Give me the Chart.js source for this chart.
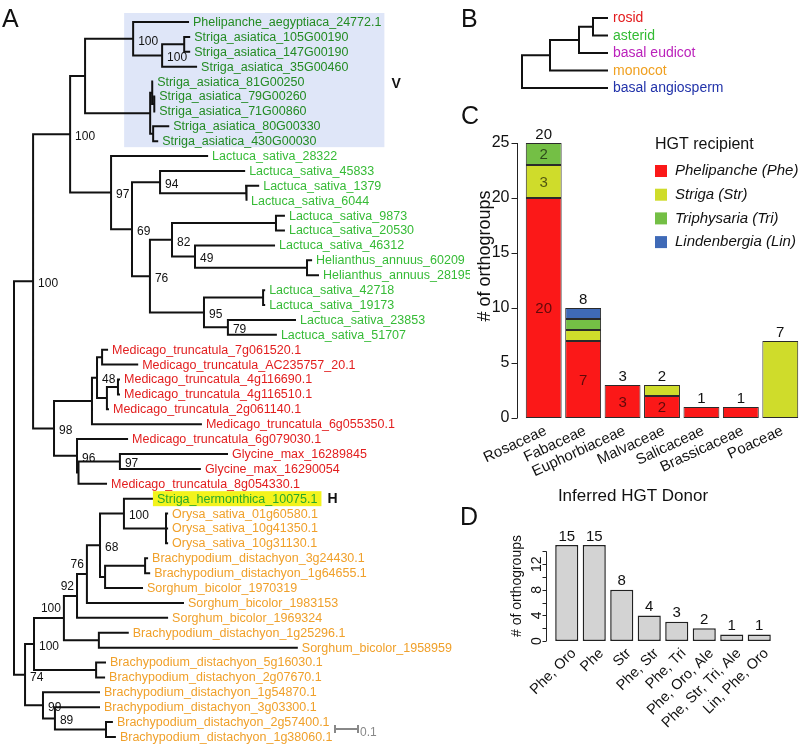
<!DOCTYPE html>
<html>
<head>
<meta charset="utf-8">
<title>HGT phylogeny figure</title>
<script src="https://cdn.jsdelivr.net/npm/chart.js@4.4.1/dist/chart.umd.min.js"></script>
<style>
  html, body { margin:0; padding:0; background:#ffffff; }
  body { width:800px; height:745px; position:relative; overflow:hidden; font-family:"Liberation Sans", Arial, Helvetica, sans-serif; }
  canvas { position:absolute; }
  .panel { position:absolute; font-size:25px; line-height:25px; color:#111; z-index:5; }
</style>
</head>
<body>
<div class="panel" style="left:2px;top:6px">A</div>
<div class="panel" style="left:461px;top:6px">B</div>
<div class="panel" style="left:461px;top:103px">C</div>
<div class="panel" style="left:460px;top:504px">D</div>
<canvas id="treeA" width="470" height="745" style="left:0;top:0"></canvas>
<canvas id="treeB" width="330" height="100" style="left:470px;top:0"></canvas>
<canvas id="chartC" width="330" height="420" style="left:470px;top:100px"></canvas>
<canvas id="chartD" width="330" height="225" style="left:470px;top:520px"></canvas>
<script>
// ===================== DATA =====================
// Panel A: gene tree, Newick pieces (branch lengths in substitutions/site, internal labels = bootstrap)
const cladeV = "((Phelipanche_aegyptiaca_24772.1:0.243,((Striga_asiatica_105G00190:0.026,Striga_asiatica_147G00190:0.026):0.096,Striga_asiatica_35G00460:0.152)100:0.126)100:0.209,((Striga_asiatica_81G00250:0.004,(Striga_asiatica_79G00260:0.004,Striga_asiatica_71G00860:0.004):0.009):0.009,(Striga_asiatica_80G00330:0.070,Striga_asiatica_430G00030:0.022):0.013):0.283)";
const cladeAsterid = "(Lactuca_sativa_28322:0.422,((Lactuca_sativa_45833:0.370,(Lactuca_sativa_1379:0.057,Lactuca_sativa_6044:0.004):0.374)94:0.122,(((Lactuca_sativa_9873:0.039,Lactuca_sativa_20530:0.039):0.452,(Lactuca_sativa_46312:0.348,(Helianthus_annuus_60209:0.022,Helianthus_annuus_28195:0.052):0.487)49:0.100)82:0.096,((Lactuca_sativa_42718:0.009,Lactuca_sativa_19173:0.009):0.257,(Lactuca_sativa_23853:0.296,Lactuca_sativa_51707:0.213)79:0.104)95:0.235)76:0.078)69:0.091)97";
const cladeRosid = "((((Medicago_truncatula_7g061520.1:0.026,Medicago_truncatula_AC235757_20.1:0.157):0.022,((Medicago_truncatula_4g116690.1:0.009,Medicago_truncatula_4g116510.1:0.009):0.048,Medicago_truncatula_2g061140.1:0.009):0.043)48:0.022,Medicago_truncatula_6g055350.1:0.478):0.165,(Medicago_truncatula_6g079030.1:0.222,((Glycine_max_16289845:0.470,Glycine_max_16290054:0.352)97:0.180,Medicago_truncatula_8g054330.1:0.124):0.0065)96:0.100)98";
const cladeMonocot = "(((((((Striga_hermonthica_10075.1:0.126,(Orysa_sativa_01g60580.1:0.009,Orysa_sativa_10g41350.1:0.009,Orysa_sativa_10g31130.1:0.009):0.183)100:0.104,((Brachypodium_distachyon_3g24430.1:0.013,Brachypodium_distachyon_1g64655.1:0.022):0.174,Sorghum_bicolor_1970319:0.165):0.022)68:0.057,Sorghum_bicolor_1983153:0.422)76:0.043,Sorghum_bicolor_1969324:0.396)92:0.057,(Brachypodium_distachyon_1g25296.1:0.130,Sorghum_bicolor_1958959:0.865):0.152)100:0.130,(Brachypodium_distachyon_5g16030.1:0.043,Brachypodium_distachyon_2g07670.1:0.039):0.270)100:0.039,(Brachypodium_distachyon_1g54870.1:0.248,(Brachypodium_distachyon_3g03300.1:0.196,(Brachypodium_distachyon_2g57400.1:0.030,Brachypodium_distachyon_1g38060.1:0.043):0.222)89:0.052)99:0.078)74";
const newickA = "(((" + cladeV + ":0.065," + cladeAsterid + ":0.178)100:0.161," + cladeRosid + ":0.091)100:0.083," + cladeMonocot + ":0.048);";
const scaleBarLength = 0.1;
const highlightedLeaf = "Striga_hermonthica_10075.1";

// Panel B: species cladogram
const newickB = "((((rosid:0.15,asterid:0.15):0.14,basal eudicot:0.29):0.29,monocot:0.58):0.28,basal angiosperm:0.86);";

// Panel C: stacked bars
const donorFamilies = ['Rosaceae','Fabaceae','Euphorbiaceae','Malvaceae','Salicaceae','Brassicaceae','Poaceae'];
const recipientNames = ['Phelipanche (Phe)','Striga (Str)','Triphysaria (Tri)','Lindenbergia (Lin)'];
const pheCounts = [20, 7, 3, 2, 1, 1, 0];
const strCounts = [3, 1, 0, 1, 0, 0, 7];
const triCounts = [2, 1, 0, 0, 0, 0, 0];
const linCounts = [0, 1, 0, 0, 0, 0, 0];
const donorTopLabels = ['20','8','3','2','1','1','7'];
const pheInnerLabels = ['20','7','3','2','','',''];
const strInnerLabels = ['3','','','','','',''];
const triInnerLabels = ['2','','','','','',''];
const linInnerLabels = ['','','','','','',''];
const cTicks = [0, 5, 10, 15, 20, 25];

// Panel D: bars
const comboLabels = ['Phe, Oro','Phe','Str','Phe, Str','Phe, Tri','Phe, Oro, Ale','Phe, Str, Tri, Ale','Lin, Phe, Oro'];
const comboCounts = [15, 15, 8, 4, 3, 2, 1, 1];
const dTicks = [0, 2, 4, 6, 8, 10, 12, 14];
const dTickLabels = ['0','','4','','8','','12',''];

// ===================== STYLE =====================
const FONT = '"Liberation Sans", Arial, Helvetica, sans-serif';
Chart.defaults.font.family = FONT;
Chart.defaults.color = '#111';
Chart.defaults.animation = false;
const genusColors = [
  ['Striga_hermonthica', '#2aa82a'],
  ['Phelipanche', '#238b23'], ['Striga_asiatica', '#238b23'],
  ['Lactuca', '#36bb36'], ['Helianthus', '#36bb36'],
  ['Medicago', '#e21e1e'], ['Glycine', '#e21e1e'],
  ['Orysa', '#f0a02a'], ['Brachypodium', '#f0a02a'], ['Sorghum', '#f0a02a']
];
const cladeBColors = { 'rosid':'#e31a1c', 'asterid':'#33bb33', 'basal eudicot':'#bb22bb', 'monocot':'#f0a020', 'basal angiosperm':'#2233aa' };
const bootstrapLeftAbove = [18, 19, 20];   // preorder indices of labels drawn left-above their node
const recipientColors = ['#fb1818', '#cfdc2b', '#74bf45', '#3f6ab7'];

// ===================== HELPERS =====================
function parseNewick(s) {
  let i = 0;
  function node() {
    const n = { children: [], name: '', len: 0 };
    if (s[i] === '(') {
      i++;
      n.children.push(node());
      while (s[i] === ',') { i++; n.children.push(node()); }
      i++;
    }
    let name = '';
    while (i < s.length && !',():;'.includes(s[i])) name += s[i++];
    n.name = name.trim();
    if (s[i] === ':') {
      i++; let num = '';
      while (i < s.length && !',();'.includes(s[i])) num += s[i++];
      n.len = parseFloat(num);
    }
    return n;
  }
  return node();
}
function layoutTree(root) {
  const leaves = [], internals = [];
  let leafIdx = 0;
  (function walk(n, px, parent) {
    n.parent = parent;
    n.x = px + (parent ? n.len : 0);
    if (!n.children.length) { n.y = leafIdx++; leaves.push(n); }
    else {
      internals.push(n);
      n.children.forEach(c => walk(c, n.x, n));
      n.y = (n.children[0].y + n.children[n.children.length - 1].y) / 2;
    }
  })(root, 0, null);
  return { leaves, internals };
}
function treeSegments(internals) {
  const pts = [];
  internals.forEach(n => {
    const f = n.children[0], l = n.children[n.children.length - 1];
    pts.push({x: f.x, y: f.y}, {x: n.x, y: f.y}, {x: n.x, y: l.y}, {x: l.x, y: l.y}, {x: n.x, y: null});
    n.children.slice(1, -1).forEach(c => pts.push({x: n.x, y: c.y}, {x: c.x, y: c.y}, {x: n.x, y: null}));
  });
  return pts;
}
function colorFor(name) {
  for (const [k, c] of genusColors) if (name.startsWith(k)) return c;
  return '#111';
}
const baseOpts = (xmin, xmax, ymin, ymax) => ({
  responsive: false, animation: false, events: [],
  layout: { padding: 0 },
  plugins: { legend: { display: false }, tooltip: { enabled: false } },
  scales: {
    x: { type: 'linear', display: false, min: xmin, max: xmax },
    y: { type: 'linear', display: false, reverse: true, min: ymin, max: ymax }
  }
});

// ===================== PANEL A =====================
const treeA = parseNewick(newickA.replace(/\s+/g, ''));
const A = layoutTree(treeA);
const PX_PER_UNIT_A = 230, ROOT_PX_A = 14, LEAF0_PX = 22, LEAF_STEP = 14.896;
const axMinA = -ROOT_PX_A / PX_PER_UNIT_A, axMaxA = axMinA + 470 / PX_PER_UNIT_A;
const ayMinA = -LEAF0_PX / LEAF_STEP, ayMaxA = ayMinA + 745 / LEAF_STEP;

const treeAPlugin = {
  id: 'treeAdeco',
  beforeDatasetsDraw(chart) {
    const { ctx, scales: { x, y } } = chart;
    ctx.save();
    ctx.font = '12.5px ' + FONT;
    const vLeaves = A.leaves.filter(l => l.name.startsWith('Phelipanche') || l.name.startsWith('Striga_asiatica'));
    let anc = vLeaves[0];
    while (anc.parent && !vLeaves.every(l => { let p = l; while (p && p !== anc) p = p.parent; return p === anc; })) anc = anc.parent;
    const left = Math.min(...anc.children.map(c => x.getPixelForValue(c.x))) - 9;
    const right = Math.max(...vLeaves.map(l => x.getPixelForValue(l.x) + 4 + ctx.measureText(l.name).width)) + 3;
    const top = y.getPixelForValue(vLeaves[0].y) - 9;
    const bottom = y.getPixelForValue(vLeaves[vLeaves.length - 1].y) + 6;
    ctx.fillStyle = '#dfe6f8';
    ctx.fillRect(left, top, right - left, bottom - top);
    chart.$vbox = { right, top, bottom };
    const h = A.leaves.find(l => l.name === highlightedLeaf);
    const hx = x.getPixelForValue(h.x), hy = y.getPixelForValue(h.y);
    const hw = ctx.measureText(h.name).width;
    ctx.fillStyle = '#f3f31c';
    ctx.fillRect(hx, hy - 7.5, hw + 8, 15);
    chart.$hbox = { right: hx + hw + 8, y: hy };
    ctx.restore();
  },
  afterDatasetsDraw(chart) {
    const { ctx, scales: { x, y } } = chart;
    ctx.save();
    ctx.textBaseline = 'middle';
    ctx.font = '12.5px ' + FONT;
    A.leaves.forEach(l => {
      ctx.fillStyle = colorFor(l.name);
      ctx.textAlign = 'left';
      ctx.fillText(l.name, x.getPixelForValue(l.x) + 4, y.getPixelForValue(l.y) + 0.5);
    });
    ctx.font = '12px ' + FONT;
    ctx.fillStyle = '#111';
    let k = 0;
    A.internals.forEach(n => {
      if (!n.name) return;
      const px = x.getPixelForValue(n.x), py = y.getPixelForValue(n.y);
      if (bootstrapLeftAbove.includes(k)) {
        ctx.textAlign = 'right';
        ctx.fillText(n.name, px - 3, py - 9.5);
      } else {
        ctx.textAlign = 'left';
        ctx.fillText(n.name, px + 5, py + 2.5);
      }
      k++;
    });
    ctx.font = 'bold 14px ' + FONT;
    ctx.textAlign = 'left';
    ctx.fillText('V', chart.$vbox.right + 7, (chart.$vbox.top + chart.$vbox.bottom) / 2 + 4);
    ctx.fillText('H', chart.$hbox.right + 6, chart.$hbox.y);
    const sx0 = 335, sy = y.getPixelForValue(A.leaves.length - 1) - 8;
    const sx1 = sx0 + (x.getPixelForValue(scaleBarLength) - x.getPixelForValue(0));
    ctx.strokeStyle = '#888'; ctx.lineWidth = 2;
    ctx.beginPath();
    ctx.moveTo(sx0, sy); ctx.lineTo(sx1, sy);
    ctx.moveTo(sx0, sy - 4); ctx.lineTo(sx0, sy + 4);
    ctx.moveTo(sx1, sy - 4); ctx.lineTo(sx1, sy + 4);
    ctx.stroke();
    ctx.fillStyle = '#888'; ctx.font = '12px ' + FONT;
    ctx.fillText(String(scaleBarLength), sx1 + 2, sy + 4);
    ctx.restore();
  }
};

new Chart(document.getElementById('treeA'), {
  type: 'scatter',
  data: { datasets: [{ data: treeSegments(A.internals), showLine: true, spanGaps: false, borderColor: '#111', borderWidth: 2, borderJoinStyle: 'miter', borderCapStyle: 'butt', pointRadius: 0, pointHoverRadius: 0, tension: 0 }] },
  options: baseOpts(axMinA, axMaxA, ayMinA, ayMaxA),
  plugins: [treeAPlugin]
});

// ===================== PANEL B =====================
const treeB = parseNewick(newickB);
const B = layoutTree(treeB);
const axMinB = -0.52, axMaxB = axMinB + 3.3;
const ayMinB = -18 / 17.5, ayMaxB = ayMinB + 100 / 17.5;
const treeBPlugin = {
  id: 'treeBdeco',
  afterDatasetsDraw(chart) {
    const { ctx, scales: { x, y } } = chart;
    ctx.save();
    ctx.font = '14px ' + FONT; ctx.textBaseline = 'middle'; ctx.textAlign = 'left';
    B.leaves.forEach(l => {
      ctx.fillStyle = cladeBColors[l.name] || '#111';
      ctx.fillText(l.name, x.getPixelForValue(l.x) + 5, y.getPixelForValue(l.y) + 0.5);
    });
    ctx.restore();
  }
};
new Chart(document.getElementById('treeB'), {
  type: 'scatter',
  data: { datasets: [{ data: treeSegments(B.internals), showLine: true, spanGaps: false, borderColor: '#111', borderWidth: 2, borderJoinStyle: 'miter', pointRadius: 0, pointHoverRadius: 0 }] },
  options: baseOpts(axMinB, axMaxB, ayMinB, ayMaxB),
  plugins: [treeBPlugin]
});

// ===================== PANEL C =====================
const recipientCounts = [pheCounts, strCounts, triCounts, linCounts];
const recipientInner = [pheInnerLabels, strInnerLabels, triInnerLabels, linInnerLabels];
const chartCPlugin = {
  id: 'chartCdeco',
  afterDatasetsDraw(chart) {
    const { ctx, chartArea, scales: { x, y } } = chart;
    const off = { left: chart.canvas.offsetLeft, top: chart.canvas.offsetTop };
    ctx.save();
    const ax = chartArea.left - 7 + 0.5;
    ctx.strokeStyle = '#222'; ctx.lineWidth = 1;
    ctx.beginPath();
    ctx.moveTo(ax, y.getPixelForValue(cTicks[0]));
    ctx.lineTo(ax, y.getPixelForValue(cTicks[cTicks.length - 1]));
    cTicks.forEach(t => { const py = Math.round(y.getPixelForValue(t)) + 0.5; ctx.moveTo(ax, py); ctx.lineTo(ax - 6, py); });
    ctx.stroke();
    ctx.fillStyle = '#111'; ctx.font = '16px ' + FONT; ctx.textAlign = 'right'; ctx.textBaseline = 'middle';
    cTicks.forEach(t => ctx.fillText(String(t), ax - 8, y.getPixelForValue(t)));
    ctx.save();
    ctx.translate(485 - off.left, 256 - off.top); ctx.rotate(-Math.PI / 2);
    ctx.font = '18px ' + FONT; ctx.textAlign = 'center'; ctx.textBaseline = 'middle';
    ctx.fillText('# of orthogroups', 0, 0);
    ctx.restore();
    ctx.font = '15px ' + FONT; ctx.textAlign = 'center'; ctx.textBaseline = 'middle';
    ctx.fillStyle = 'rgba(0,0,0,0.62)';
    chart.data.datasets.forEach((ds, di) => {
      const meta = chart.getDatasetMeta(di);
      recipientInner[di].forEach((lab, j) => {
        if (!lab) return;
        const el = meta.data[j];
        ctx.fillText(lab, el.x, (el.y + el.base) / 2 + 1);
      });
    });
    ctx.fillStyle = '#111';
    ctx.textBaseline = 'bottom';
    donorFamilies.forEach((f, j) => {
      const tot = recipientCounts.reduce((s, arr) => s + arr[j], 0);
      ctx.fillText(donorTopLabels[j], x.getPixelForValue(j), y.getPixelForValue(tot) - 1);
    });
    ctx.font = '17px ' + FONT; ctx.textBaseline = 'middle';
    ctx.fillText('Inferred HGT Donor', 633 - off.left, 496 - off.top);
    const lx = 655 - off.left;
    ctx.textAlign = 'left';
    ctx.font = '16px ' + FONT;
    ctx.fillText('HGT recipient', lx, 145 - off.top);
    ctx.font = 'italic 15px ' + FONT;
    chart.data.datasets.forEach((ds, i) => {
      const cy = 171 - off.top + i * 23.7;
      ctx.fillStyle = ds.backgroundColor;
      ctx.fillRect(lx, cy - 6, 12, 12);
      ctx.fillStyle = '#111';
      ctx.fillText(ds.label, lx + 20, cy);
    });
    ctx.restore();
  }
};
new Chart(document.getElementById('chartC'), {
  type: 'bar',
  data: {
    labels: donorFamilies,
    datasets: recipientNames.map((name, i) => ({
      label: name,
      data: recipientCounts[i].map(v => v > 0 ? v : null),
      backgroundColor: recipientColors[i],
      borderColor: '#2a2a2a', borderWidth: 1, borderSkipped: false,
      categoryPercentage: 1, barPercentage: 0.91, stack: 'donor'
    }))
  },
  options: {
    responsive: false, animation: false, events: [],
    layout: { padding: { left: 54, top: 43, right: 0, bottom: 0 } },
    plugins: { legend: { display: false }, tooltip: { enabled: false } },
    scales: {
      x: {
        stacked: true, grid: { display: false, drawTicks: false }, border: { display: false },
        ticks: { autoSkip: false, minRotation: 25, maxRotation: 25, padding: 4, labelOffset: 2, color: '#111', font: { size: 15 } },
        afterFit: s => { s.height = 102; s.paddingLeft = 0; s.paddingRight = 0; }
      },
      y: { stacked: true, display: false, min: 0, max: 25 }
    }
  },
  plugins: [chartCPlugin]
});

// ===================== PANEL D =====================
const chartDPlugin = {
  id: 'chartDdeco',
  afterDatasetsDraw(chart) {
    const { ctx, chartArea, scales: { x, y } } = chart;
    const off = { left: chart.canvas.offsetLeft, top: chart.canvas.offsetTop };
    ctx.save();
    const ax = chartArea.left - 7 + 0.5;
    ctx.strokeStyle = '#222'; ctx.lineWidth = 1;
    ctx.beginPath();
    ctx.moveTo(ax, y.getPixelForValue(dTicks[0]));
    ctx.lineTo(ax, y.getPixelForValue(dTicks[dTicks.length - 1]));
    dTicks.forEach(t => { const py = Math.round(y.getPixelForValue(t)) + 0.5; ctx.moveTo(ax, py); ctx.lineTo(ax - 4, py); });
    ctx.stroke();
    ctx.fillStyle = '#111'; ctx.font = '14px ' + FONT;
    dTicks.forEach((t, i) => {
      if (!dTickLabels[i]) return;
      ctx.save();
      ctx.translate(ax - 6, y.getPixelForValue(t)); ctx.rotate(-Math.PI / 2);
      ctx.textAlign = 'center'; ctx.textBaseline = 'alphabetic';
      ctx.fillText(dTickLabels[i], 0, 0);
      ctx.restore();
    });
    ctx.save();
    ctx.translate(517 - off.left, 586 - off.top); ctx.rotate(-Math.PI / 2);
    ctx.textAlign = 'center'; ctx.textBaseline = 'middle'; ctx.font = '14px ' + FONT;
    ctx.fillText('# of orthogroups', 0, 0);
    ctx.restore();
    ctx.font = '15px ' + FONT; ctx.textAlign = 'center'; ctx.textBaseline = 'bottom';
    comboCounts.forEach((v, j) => ctx.fillText(String(v), x.getPixelForValue(j), y.getPixelForValue(v) - 1));
    ctx.restore();
  }
};
new Chart(document.getElementById('chartD'), {
  type: 'bar',
  data: {
    labels: comboLabels,
    datasets: [{ data: comboCounts, backgroundColor: '#d3d3d3', borderColor: '#222', borderWidth: 1.5, borderSkipped: false, categoryPercentage: 1, barPercentage: 0.84 }]
  },
  options: {
    responsive: false, animation: false, events: [],
    layout: { padding: { left: 83, top: 25, right: 27, bottom: 0 } },
    plugins: { legend: { display: false }, tooltip: { enabled: false } },
    scales: {
      x: {
        grid: { display: false, drawTicks: false }, border: { display: false },
        ticks: { autoSkip: false, minRotation: 45, maxRotation: 45, padding: 4, labelOffset: 7, color: '#111', font: { size: 14.5 } },
        afterFit: s => { s.height = 104; s.paddingLeft = 0; s.paddingRight = 0; }
      },
      y: { display: false, min: 0, max: 15 }
    }
  },
  plugins: [chartDPlugin]
});
</script>
</body>
</html>
